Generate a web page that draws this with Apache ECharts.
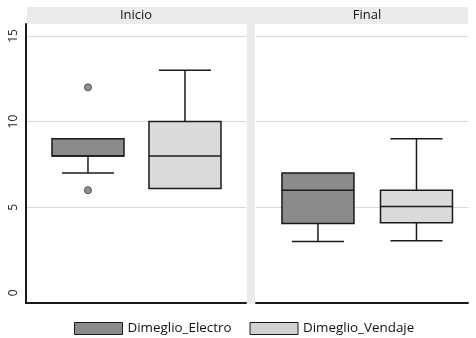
<!DOCTYPE html>
<html>
<head>
<meta charset="utf-8">
<script src="https://cdn.jsdelivr.net/npm/echarts@6/dist/echarts.min.js"></script>
<style>
  html, body { margin: 0; padding: 0; background: #fff; }
  #chart { width: 476px; height: 338px; }
</style>
</head>
<body>
<div id="chart"></div>
<script>
// facets and groups
const panels = ['Inicio', 'Final']
const groups = ['Dimeglio_Electro', 'Dimeglio_Vendaje']
// [min, Q1, median, Q3, max]
const inicioElectro = [7, 8, 8, 9, 9]
const inicioVendaje = [6.1, 6.1, 8, 10, 13]
const finalElectro = [3, 4.05, 6, 7, 7]
const finalVendaje = [3.05, 4.1, 5.05, 6, 9]
// outliers, [groupIndex, value]
const inicioOutliers = [[0, 12], [0, 6]]
const yLabels = [0, 5, 10, 15]
const yGrid = [5, 10, 15]

const colors = ['#8b8b8b', '#dadada']
const chart = echarts.init(document.getElementById('chart'))

// box + whiskers, drawn from the axis scales
function renderBox(params, api) {
  const x = api.value(0)
  const lo = api.coord([x, api.value(1)])
  const q1 = api.coord([x, api.value(2)])
  const md = api.coord([x, api.value(3)])
  const q3 = api.coord([x, api.value(4)])
  const hi = api.coord([x, api.value(5)])
  const half = 36
  const cap = 26
  const cx = md[0]
  const line = { stroke: '#1a1a1a', lineWidth: 1.5 }
  const fill = api.visual('color')
  return {
    type: 'group',
    children: [
      { type: 'line', shape: { x1: cx, y1: hi[1], x2: cx, y2: q3[1] }, style: line },
      { type: 'line', shape: { x1: cx - cap, y1: hi[1], x2: cx + cap, y2: hi[1] }, style: line, invisible: hi[1] === q3[1] },
      { type: 'line', shape: { x1: cx, y1: q1[1], x2: cx, y2: lo[1] }, style: line },
      { type: 'line', shape: { x1: cx - cap, y1: lo[1], x2: cx + cap, y2: lo[1] }, style: line, invisible: lo[1] === q1[1] },
      {
        type: 'rect',
        shape: { x: cx - half, y: q3[1], width: half * 2, height: q1[1] - q3[1] },
        style: { fill: fill, stroke: '#1a1a1a', lineWidth: 1.5 }
      },
      { type: 'line', shape: { x1: cx - half, y1: md[1], x2: cx + half, y2: md[1] }, style: line }
    ]
  }
}

function boxSeries(name, idx, gridIdx, values) {
  return {
    name: name,
    type: 'custom',
    xAxisIndex: gridIdx,
    yAxisIndex: gridIdx,
    itemStyle: { color: colors[idx], borderColor: '#1a1a1a', borderWidth: 1 },
    renderItem: renderBox,
    encode: { x: 0, y: [1, 2, 3, 4, 5] },
    data: [[idx].concat(values)],
    z: 3
  }
}

const yAxisBase = {
  type: 'value',
  min: -0.59,
  max: 15.7,
  axisLabel: {
    customValues: yLabels,
    rotate: 90,
    fontSize: 12,
    color: '#222',
    margin: 6,
    fontFamily: 'Open Sans'
  },
  axisTick: { show: false, customValues: yGrid },
  splitLine: { show: true, lineStyle: { color: '#d9d9d9', width: 1 } }
}

const option = {
  animation: false,
  textStyle: { fontFamily: 'Open Sans' },
  grid: [
    { left: 26, top: 24, width: 220, bottom: 35 },
    { left: 256, top: 24, width: 212, bottom: 35 }
  ],
  xAxis: [
    {
      type: 'value', gridIndex: 0, min: -0.639, max: 1.629,
      axisLabel: { show: false }, axisTick: { show: false }, splitLine: { show: false },
      axisLine: { show: true, onZero: false, lineStyle: { color: '#1a1a1a', width: 2 } }
    },
    {
      type: 'value', gridIndex: 1, min: -0.629, max: 1.523,
      axisLabel: { show: false }, axisTick: { show: false }, splitLine: { show: false },
      axisLine: { show: true, onZero: false, lineStyle: { color: '#1a1a1a', width: 2 } }
    }
  ],
  yAxis: [
    Object.assign({}, yAxisBase, {
      gridIndex: 0,
      axisLine: { show: true, onZero: false, lineStyle: { color: '#1a1a1a', width: 2 } }
    }),
    Object.assign({}, yAxisBase, {
      gridIndex: 1,
      axisLabel: { show: false, customValues: yLabels },
      axisLine: { show: false, onZero: false }
    })
  ],
  legend: {
    top: 317,
    left: 69,
    itemWidth: 48,
    itemHeight: 12,
    itemGap: 18,
    icon: 'rect',
    textStyle: { fontSize: 13.4, color: '#111', fontFamily: 'Open Sans' },
    data: groups.map((g, i) => ({
      name: g,
      itemStyle: { color: i === 0 ? '#8b8b8b' : '#d2d2d2', borderColor: '#1a1a1a', borderWidth: 1 }
    }))
  },
  graphic: [
    { type: 'rect', shape: { x: 27, y: 7, width: 441, height: 17 }, style: { fill: '#ebebeb' }, z: -1 },
    { type: 'rect', shape: { x: 247, y: 24, width: 8, height: 280 }, style: { fill: '#ebebeb' }, z: 100 },
    { type: 'text', x: 136, y: 15, style: { text: panels[0], fill: '#111', font: '13px "Open Sans"', textAlign: 'center', textVerticalAlign: 'middle' } },
    { type: 'text', x: 367, y: 15, style: { text: panels[1], fill: '#111', font: '13px "Open Sans"', textAlign: 'center', textVerticalAlign: 'middle' } }
  ],
  series: [
    boxSeries(groups[0], 0, 0, inicioElectro),
    boxSeries(groups[1], 1, 0, inicioVendaje),
    boxSeries(groups[0], 0, 1, finalElectro),
    boxSeries(groups[1], 1, 1, finalVendaje),
    {
      type: 'scatter',
      xAxisIndex: 0,
      yAxisIndex: 0,
      symbolSize: 7,
      itemStyle: { color: '#777', borderColor: '#333', borderWidth: 1 },
      data: inicioOutliers,
      z: 4
    }
  ]
}

chart.setOption(option)
</script>
</body>
</html>
